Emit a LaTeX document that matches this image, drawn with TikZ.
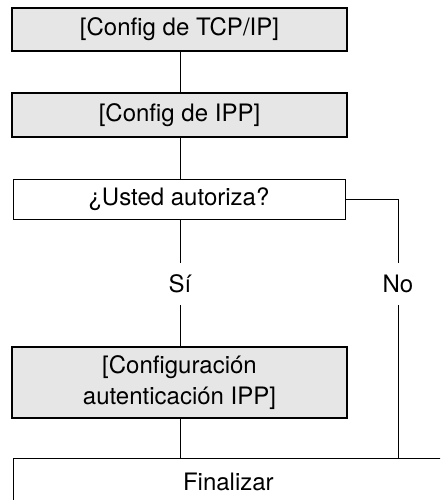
\documentclass[tikz,border=0pt]{standalone}
\usepackage{fontspec}
\setmainfont{TeX Gyre Heros}
\definecolor{boxgrey}{HTML}{E6E6E6}
\begin{document}
\begin{tikzpicture}[x=1pt,y=-1pt,
  font=\fontsize{24}{31}\selectfont,
  stepbox/.style={draw=black,line width=2pt,fill=boxgrey,minimum width=335pt,inner sep=0pt,align=center},
  askbox/.style={draw=black,line width=0.8pt,fill=white,minimum width=332pt,minimum height=40pt,inner sep=0pt},
  endbox/.style={draw=black,line width=0.8pt,fill=white,minimum width=430pt,minimum height=48pt,inner sep=0pt},
  lbl/.style={inner sep=0pt,minimum height=42pt},
  conn/.style={line width=0.8pt}]
\useasboundingbox (0,0) rectangle (440,500);
\clip (0,0) rectangle (440,500);
\node[stepbox,minimum height=43pt] (tcp) at (179.5,29.5) {[Config de TCP/IP]};
\node[stepbox,minimum height=44pt] (ipp) at (179.5,115) {[Config de IPP]};
\node[askbox] (ask) at (179,199) {¿Usted autoriza?};
\node[lbl] (si) at (180,284) {Sí};
\node[lbl] (no) at (398,284) {No};
\node[stepbox,minimum height=71pt] (auth) at (179.5,382.5) {[Configuración\\autenticación IPP]};
\node[endbox,anchor=north west] (fin) at (13,458) {Finalizar};
\coordinate (noend) at (398,458);
\draw[conn] (si |- tcp.south) -- (si |- ipp.north);
\draw[conn] (si |- ipp.south) -- (si |- ask.north);
\draw[conn] (si |- ask.south) -- (si.north);
\draw[conn] (si.south) -- (si |- auth.north);
\draw[conn] (si |- auth.south) -- (si |- fin.north);
\draw[conn] (ask.east) -| (no.north);
\draw[conn] (no.south) -- (noend);
\end{tikzpicture}
\end{document}
